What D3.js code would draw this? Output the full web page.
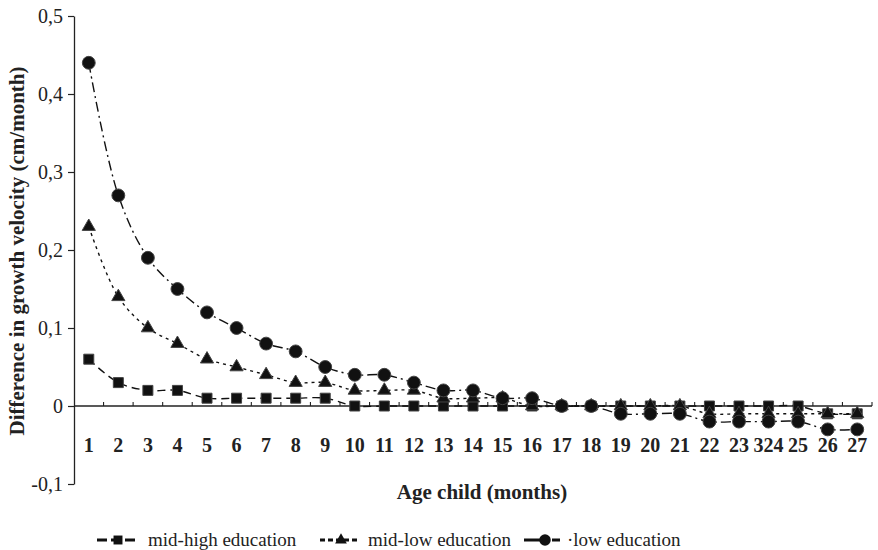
<!DOCTYPE html>
<html>
<head>
<meta charset="utf-8">
<script src="https://cdn.jsdelivr.net/npm/d3@7"></script>
<style>
  body { margin: 0; background: #fff; }
  svg text { font-family: "Liberation Serif", "DejaVu Serif", serif; }
</style>
</head>
<body>
<svg id="chart" width="878" height="550"></svg>
<script>
const ages = d3.range(1, 28);
const ageLabels = ages.map((a) => (a === 24 ? "324" : String(a)));
const midHigh = [0.06, 0.03, 0.02, 0.02, 0.01, 0.01, 0.01, 0.01, 0.01, 0, 0, 0, 0, 0, 0, 0, 0, 0, 0, 0, 0, 0, 0, 0, 0, -0.01, -0.01];
const midLow = [0.23, 0.14, 0.10, 0.08, 0.06, 0.05, 0.04, 0.03, 0.03, 0.02, 0.02, 0.02, 0.01, 0.01, 0.01, 0, 0, 0, 0, 0, 0, -0.01, -0.01, -0.01, -0.01, -0.01, -0.01];
const low = [0.44, 0.27, 0.19, 0.15, 0.12, 0.10, 0.08, 0.07, 0.05, 0.04, 0.04, 0.03, 0.02, 0.02, 0.01, 0.01, 0, 0, -0.01, -0.01, -0.01, -0.02, -0.02, -0.02, -0.02, -0.03, -0.03];
const yTicks = [-0.1, 0, 0.1, 0.2, 0.3, 0.4, 0.5];

const series = [
  { name: "mid-high education", values: midHigh, symbol: d3.symbolSquare, size: 100, dash: "8,5" },
  { name: "mid-low education", values: midLow, symbol: d3.symbolTriangle, size: 75, dash: "3,4" },
  { name: "low education", values: low, symbol: d3.symbolCircle, size: 130, dash: "10,4,2,4" }
];

const svg = d3.select("svg#chart");
const x = d3.scaleBand(ages, [74, 872]);
const y = d3.scaleLinear([-0.1, 0.5], [484, 16]);
const fmt = (d) => (d === 0 ? "0" : (d < 0 ? "-" : "") + d3.format(".1f")(Math.abs(d)).replace(".", ","));

// y axis
const yAxis = svg.append("g").attr("transform", "translate(74,0)")
  .call(d3.axisLeft(y).tickValues(yTicks).tickFormat(fmt).tickSize(6).tickSizeOuter(0));
yAxis.select(".domain").attr("stroke", "#222").attr("stroke-width", 1.3);
yAxis.selectAll(".tick line").attr("stroke", "#222").attr("stroke-width", 1.2);
yAxis.selectAll(".tick text").attr("font-size", 20).attr("fill", "#222")
  .attr("font-family", "Liberation Serif, serif").attr("x", -11);

// x axis along zero line
const xAxis = svg.append("g").attr("transform", `translate(0,${y(0)})`);
xAxis.append("line").attr("x1", 74).attr("x2", 872).attr("stroke", "#222").attr("stroke-width", 1.3);
xAxis.selectAll("line.tk").data(ages).join("line").attr("class", "tk")
  .attr("x1", (d) => x(d) + x.bandwidth()).attr("x2", (d) => x(d) + x.bandwidth())
  .attr("y1", 0).attr("y2", -4).attr("stroke", "#222").attr("stroke-width", 1.1);
svg.append("g").selectAll("text").data(ages).join("text")
  .attr("x", (d) => x(d) + x.bandwidth() / 2).attr("y", 452)
  .attr("text-anchor", "middle").attr("font-size", 20).attr("font-weight", "bold").attr("fill", "#222")
  .text((d, i) => ageLabels[i]);

// axis titles
svg.append("text").attr("x", 482).attr("y", 499).attr("text-anchor", "middle")
  .attr("font-size", 21).attr("font-weight", "bold").attr("fill", "#222").text("Age child (months)");
svg.append("text").attr("transform", "translate(24,251) rotate(-90)").attr("text-anchor", "middle")
  .attr("font-size", 21).attr("font-weight", "bold").attr("fill", "#222")
  .text("Difference in growth velocity (cm/month)");

// lines and markers
const line = d3.line((d, i) => x(ages[i]) + x.bandwidth() / 2, (d) => y(d)).curve(d3.curveCatmullRom);
const plot = svg.append("g");
series.forEach((s) => {
  plot.append("path").datum(s.values).attr("d", line).attr("fill", "none")
    .attr("stroke", "#111").attr("stroke-width", 1.4).attr("stroke-dasharray", s.dash);
});
series.forEach((s) => {
  plot.append("g").selectAll("path").data(s.values).join("path")
    .attr("transform", (d, i) => `translate(${x(ages[i]) + x.bandwidth() / 2},${y(d)})`)
    .attr("d", d3.symbol(s.symbol, s.size)).attr("fill", "#111").attr("stroke", "#444").attr("stroke-width", 1);
});

// legend
const legendX = [97, 320, 524];
const legendTextX = [51, 48, 43];
const legendDash = ["10,4", "5,3", "24,4,8,60"];
const legend = svg.append("g").attr("transform", "translate(0,540)");
series.forEach((s, i) => {
  const g = legend.append("g").attr("transform", `translate(${legendX[i]},0)`);
  g.append("line").attr("x1", 0).attr("x2", 40).attr("y1", 0).attr("y2", 0)
    .attr("stroke", "#111").attr("stroke-width", 3).attr("stroke-dasharray", legendDash[i]);
  g.append("path").attr("transform", "translate(21,0)").attr("d", d3.symbol(s.symbol, s.size * 0.8)).attr("fill", "#111");
  g.append("text").attr("x", legendTextX[i]).attr("y", 6).attr("font-size", 19).attr("fill", "#222")
    .text((i === 2 ? "\u00b7" : "") + s.name);
});
</script>
</body>
</html>
